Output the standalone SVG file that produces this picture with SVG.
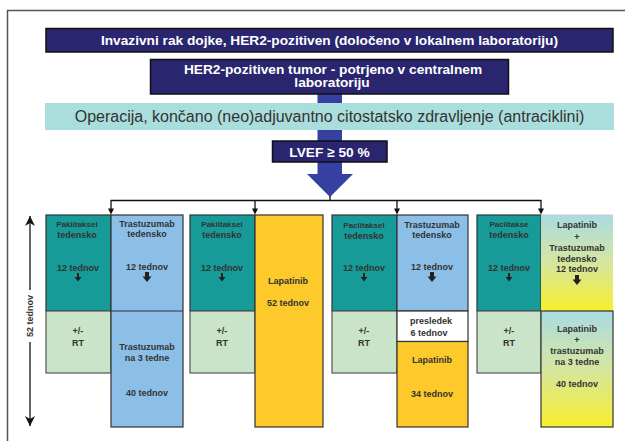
<svg xmlns="http://www.w3.org/2000/svg" width="625" height="441" viewBox="0 0 625 441">
<style>
text{font-family:"Liberation Sans",Arial,Helvetica,sans-serif;}
.hdr{fill:#29256f;stroke:#111;stroke-width:1.5;}
.ht{fill:#fff;font-weight:bold;font-size:13.7px;text-anchor:middle;}
.band{fill:#a9dedc;}
.bt{fill:#333;font-size:16px;text-anchor:middle;}
.teal{fill:#169b99;stroke:#333;stroke-width:1.2;}
.green{fill:#c9e4c8;stroke:#555;stroke-width:1.2;}
.blue{fill:#8cbfe8;stroke:#333;stroke-width:1.2;}
.gold{fill:#fec92b;stroke:#333;stroke-width:1.2;}
.white{fill:#fff;stroke:#333;stroke-width:1.2;}
.ct{fill:#333;font-weight:bold;font-size:9px;text-anchor:middle;}
.cs{font-size:8px;}
.conn{fill:none;stroke:#111;stroke-width:1.3;}
</style>
<defs>
<linearGradient id="gy" x1="0" y1="0" x2="0" y2="1">
<stop offset="0" stop-color="#a9dbe2"/>
<stop offset="0.5" stop-color="#d6e6a0"/>
<stop offset="1" stop-color="#f7ef2c"/>
</linearGradient>
<marker id="dbl" viewBox="0 0 10 10" refX="10" refY="5" markerWidth="10" markerHeight="10" markerUnits="userSpaceOnUse" orient="auto-start-reverse">
<path d="M0,0 L10,5 L0,10 L3,5 Z" fill="#111"/>
</marker>
<path id="sa" d="M-1,0 H1 V4 H3.5 L0,8.5 L-3.5,4 H-1 Z" fill="#222"/>
<path id="la" d="M-2,0 H2 V4.5 H4.5 L0,10 L-4.5,4.5 H-2 Z" fill="#222"/>
</defs>

<!-- frame -->
<path d="M7.5,441 V10.5 H625" fill="none" stroke="#555" stroke-width="1.5"/>

<!-- big blue arrow -->
<g id="bigArrow">
<rect x="317.5" y="93" width="24.5" height="82" fill="#3640a0"/>
<path d="M307,174 H353 L330,197 Z" fill="#3640a0"/>
</g>

<g id="n1">
<rect class="hdr" x="46" y="28.5" width="567" height="23.5"/>
<text class="ht" x="329.5" y="45">Invazivni rak dojke, HER2-pozitiven (določeno v lokalnem laboratoriju)</text>
</g>
<g id="n2">
<rect class="hdr" x="150.5" y="59.5" width="358" height="34.5"/>
<text class="ht" x="333" y="73.5">HER2-pozitiven tumor - potrjeno v centralnem</text>
<text class="ht" x="332" y="87">laboratoriju</text>
</g>
<g id="n3">
<rect class="band" x="45" y="103" width="569" height="27"/>
<text class="bt" x="329.5" y="122">Operacija, končano (neo)adjuvantno citostatsko zdravljenje (antraciklini)</text>
</g>
<g id="n4">
<rect class="hdr" x="272.5" y="141" width="114.5" height="21"/>
<text class="ht" x="329.5" y="156.5">LVEF ≥ 50 %</text>
</g>

<!-- connectors -->
<g id="connectors">
<path class="conn" d="M330,196 V200.5"/>
<path class="conn" d="M111,209 V200.5 H541 V209"/>
<path class="conn" d="M255,200.5 V209"/>
<path class="conn" d="M397,200.5 V209"/>
<path d="M108,208.5 H114 L111,214.5 Z M252,208.5 H258 L255,214.5 Z M394,208.5 H400 L397,214.5 Z M538,208.5 H544 L541,214.5 Z" fill="#111"/>
<line x1="30" y1="290" x2="30" y2="216" stroke="#111" stroke-width="1.3" marker-end="url(#dbl)"/>
<line x1="30" y1="342" x2="30" y2="426" stroke="#111" stroke-width="1.3" marker-end="url(#dbl)"/>
<text class="ct" transform="translate(33,316) rotate(-90)" x="0" y="0">52 tednov</text>
</g>

<!-- group 1 -->
<g id="g1-pak">
<rect class="teal" x="46" y="215" width="65" height="96"/>
<text class="ct cs" x="77" y="227">Paklitaksel</text>
<text class="ct" x="77" y="238">tedensko</text>
<text class="ct" x="78" y="271">12 tednov</text>
<use href="#sa" x="78" y="273"/>
</g>
<g id="g1-rt">
<rect class="green" x="46" y="311" width="65" height="62"/>
<text class="ct" x="78" y="333.5">+/-</text>
<text class="ct" x="78" y="346">RT</text>
</g>
<g id="g1-tra">
<rect class="blue" x="111" y="215" width="72" height="212"/>
<line x1="111" y1="311" x2="183" y2="311" stroke="#333" stroke-width="1.2"/>
<text class="ct" x="147" y="226.5">Trastuzumab</text>
<text class="ct" x="147" y="237">tedensko</text>
<text class="ct" x="147" y="270">12 tednov</text>
<use href="#la" x="147" y="272"/>
<text class="ct" x="147" y="350">Trastuzumab</text>
<text class="ct" x="147" y="361">na 3 tedne</text>
<text class="ct" x="147" y="396">40 tednov</text>
</g>

<!-- group 2 -->
<g id="g2-pak">
<rect class="teal" x="190" y="215" width="65" height="96"/>
<text class="ct cs" x="222" y="227">Paklitaksel</text>
<text class="ct" x="222" y="238">tedensko</text>
<text class="ct" x="222" y="271">12 tednov</text>
<use href="#sa" x="222" y="273"/>
</g>
<g id="g2-rt">
<rect class="green" x="190" y="311" width="65" height="62"/>
<text class="ct" x="222" y="333.5">+/-</text>
<text class="ct" x="222" y="346">RT</text>
</g>
<g id="g2-lap">
<rect class="gold" x="255" y="215" width="68" height="212"/>
<text class="ct" x="288" y="284">Lapatinib</text>
<text class="ct" x="288" y="306">52 tednov</text>
</g>

<!-- group 3 -->
<g id="g3-pak">
<rect class="teal" x="332" y="215" width="65" height="96"/>
<text class="ct cs" x="364" y="227.5">Paclitaksel</text>
<text class="ct" x="364" y="238.5">tedensko</text>
<text class="ct" x="364" y="271">12 tednov</text>
<use href="#sa" x="364" y="273"/>
</g>
<g id="g3-rt">
<rect class="green" x="332" y="311" width="65" height="62"/>
<text class="ct" x="364" y="333.5">+/-</text>
<text class="ct" x="364" y="346">RT</text>
</g>
<g id="g3-tra">
<rect class="blue" x="397" y="215" width="71" height="96"/>
<text class="ct" x="432" y="227.5">Trastuzumab</text>
<text class="ct" x="432" y="238">tedensko</text>
<text class="ct" x="432" y="270">12 tednov</text>
<use href="#la" x="432" y="272"/>
</g>
<g id="g3-pre">
<rect class="white" x="397" y="311" width="71" height="30.5"/>
<text class="ct" x="431" y="324">presledek</text>
<text class="ct" x="429" y="336">6 tednov</text>
</g>
<g id="g3-lap">
<rect class="gold" x="397" y="341.5" width="71" height="85.5"/>
<text class="ct" x="432" y="363">Lapatinib</text>
<text class="ct" x="432" y="397">34 tednov</text>
</g>

<!-- group 4 -->
<g id="g4-pak">
<rect class="teal" x="477" y="215" width="64" height="96"/>
<text class="ct cs" x="509" y="227">Paclitakse</text>
<text class="ct" x="509" y="238">tedensko</text>
<text class="ct" x="509" y="271">12 tednov</text>
<use href="#sa" x="509" y="273"/>
</g>
<g id="g4-rt">
<rect class="green" x="477" y="311" width="64" height="62"/>
<text class="ct" x="509" y="333.5">+/-</text>
<text class="ct" x="509" y="346">RT</text>
</g>
<g id="g4-lt1">
<rect x="541" y="215" width="72" height="96" fill="url(#gy)"/>
<line x1="541" y1="215" x2="613" y2="215" stroke="#ccc" stroke-width="1.2"/>
<text class="ct" x="577" y="228">Lapatinib</text>
<text class="ct" x="577" y="240">+</text>
<text class="ct" x="577" y="250.5">Trastuzumab</text>
<text class="ct" x="577" y="261.5">tedensko</text>
<text class="ct" x="577" y="272">12 tednov</text>
<use href="#la" x="577" y="275"/>
</g>
<g id="g4-lt2">
<rect x="541" y="311" width="72" height="116" fill="url(#gy)" stroke="#333" stroke-width="1.2"/>
<text class="ct" x="577" y="332">Lapatinib</text>
<text class="ct" x="577" y="343">+</text>
<text class="ct" x="577" y="354">trastuzumab</text>
<text class="ct" x="577" y="365">na 3 tedne</text>
<text class="ct" x="577" y="387">40 tednov</text>
</g>
</svg>
